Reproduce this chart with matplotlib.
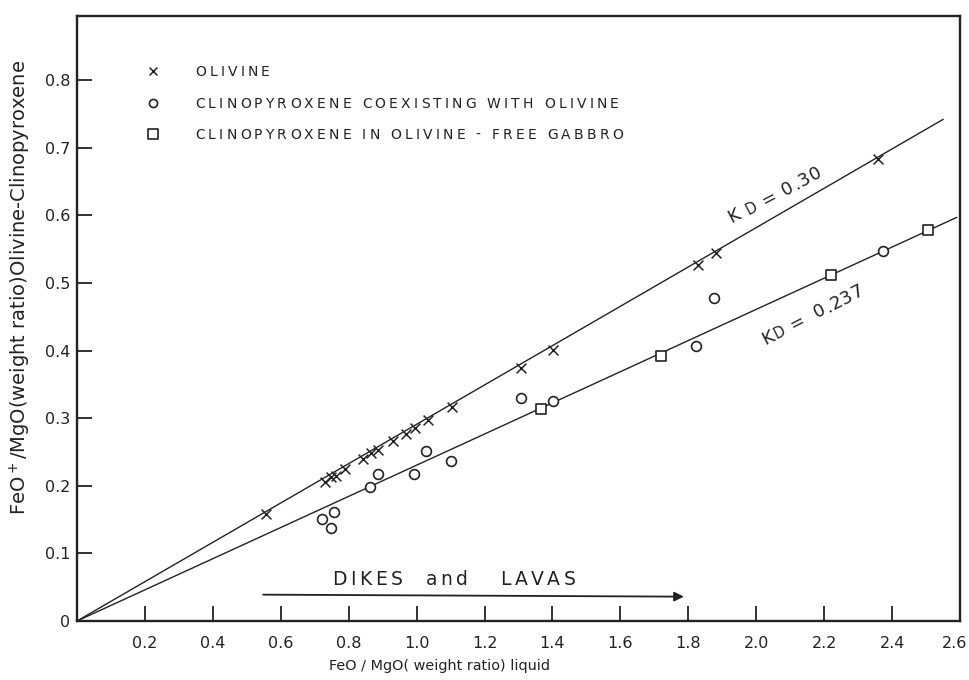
import matplotlib
matplotlib.use("Agg")
import matplotlib.pyplot as plt
from matplotlib.font_manager import FontProperties
from matplotlib.textpath import TextToPath
import matplotlib.transforms as mtransforms
import numpy as np

FONT = 'DejaVu Sans'
plt.rcParams['font.family'] = [FONT]
INK = '#222222'

# Data
olivine_x = [0.557, 0.729, 0.749, 0.764, 0.788, 0.842, 0.867, 0.887, 0.931, 0.970,
             0.995, 1.034, 1.103, 1.306, 1.403, 1.828, 1.883, 2.358]
olivine_y = [0.159, 0.205, 0.213, 0.215, 0.225, 0.240, 0.248, 0.253, 0.267, 0.276,
             0.285, 0.297, 0.316, 0.374, 0.401, 0.527, 0.544, 0.684]

cpx_ol_x = [0.721, 0.757, 0.747, 0.862, 0.887, 0.993, 1.029, 1.100, 1.307, 1.403,
            1.824, 1.877, 2.372]
cpx_ol_y = [0.151, 0.161, 0.138, 0.198, 0.217, 0.218, 0.251, 0.237, 0.330, 0.326,
            0.407, 0.478, 0.548]

cpx_gab_x = [1.366, 1.721, 2.220, 2.507]
cpx_gab_y = [0.314, 0.392, 0.512, 0.579]

line_ol_x = [0.0, 2.55]
line_ol_y = [0.0, 0.742]
line_cpx_x = [0.0, 2.59]
line_cpx_y = [0.0, 0.597]

xticks = [0.2, 0.4, 0.6, 0.8, 1.0, 1.2, 1.4, 1.6, 1.8, 2.0, 2.2, 2.4, 2.6]
xticklabels = ['0.2', '0.4', '0.6', '0.8', '1.0', '1.2', '1.4', '1.6', '1.8', '2.0', '2.2', '2.4', '2.6']
yticks = [0.0, 0.1, 0.2, 0.3, 0.4, 0.5, 0.6, 0.7, 0.8]
yticklabels = ['0', '0.1', '0.2', '0.3', '0.4', '0.5', '0.6', '0.7', '0.8']

legend_labels = ['OLIVINE', 'CLINOPYROXENE COEXISTING WITH OLIVINE',
                 'CLINOPYROXENE IN OLIVINE - FREE GABBRO']

_t2p = TextToPath()


def char_width(ch, size):
    prop = FontProperties(family=FONT, size=size)
    w1 = _t2p.get_text_width_height_descent('n' + ch + 'n', prop, ismath=False)[0]
    w0 = _t2p.get_text_width_height_descent('nn', prop, ismath=False)[0]
    return w1 - w0


def spaced_text(ax, x, y, segments, track=0.0, angle=0.0, ha='left', vcenter=True):
    """segments: list of (string, fontsize). track in points."""
    chars = []
    for s, size in segments:
        for ch in s:
            chars.append((ch, size, char_width(ch, size)))
    total = sum(w for _, _, w in chars) + track * (len(chars) - 1)
    start = -total / 2 if ha == 'center' else 0.0
    maxsize = max(size for _, size in segments)
    perp = -0.729 * maxsize / 2 if vcenter else 0.0
    th = np.deg2rad(angle)
    c, s_ = np.cos(th), np.sin(th)
    pos = start
    for ch, size, w in chars:
        if ch != ' ':
            dx = pos * c - perp * s_
            dy = pos * s_ + perp * c
            ax.annotate(ch, xy=(x, y), xycoords='data', xytext=(dx, dy),
                        textcoords='offset points', ha='left', va='baseline',
                        rotation=angle, rotation_mode='anchor', fontsize=size,
                        color=INK, annotation_clip=False)
        pos += w + track


fig = plt.figure(figsize=(9.69, 6.8), dpi=100)
ax = fig.add_axes([77/969, 1 - 621/680, (960-77)/969, (621-16)/680])

ax.plot(line_ol_x, line_ol_y, color=INK, lw=1.0, zorder=1)
ax.plot(line_cpx_x, line_cpx_y, color=INK, lw=1.0, zorder=1)

ax.scatter(olivine_x, olivine_y, marker='x', s=50, color=INK, linewidths=1.1, zorder=3)
ax.scatter(cpx_ol_x, cpx_ol_y, marker='o', s=50, facecolor='white', edgecolor=INK,
           linewidths=1.2, zorder=3)
ax.scatter(cpx_gab_x, cpx_gab_y, marker='s', s=62, facecolor='white', edgecolor=INK,
           linewidths=1.2, zorder=3)

ax.set_xlim(0, 2.6)
ax.set_ylim(0, 0.895)

ax.set_xticks(xticks)
ax.set_xticklabels(xticklabels)
ax.set_yticks(yticks)
ax.set_yticklabels(yticklabels)
ax.tick_params(axis='both', direction='in', length=11, width=1.3, labelsize=11.5,
               colors=INK)
ax.tick_params(axis='x', pad=11)
ax.tick_params(axis='y', pad=5)
for sp in ax.spines.values():
    sp.set_linewidth(1.7)
    sp.set_color(INK)

# keep the last x tick label inside the picture
last = ax.get_xticklabels()[-1]
last.set_transform(last.get_transform() +
                   mtransforms.ScaledTranslation(-5/100, 0, fig.dpi_scale_trans))

ax.set_xlabel('FeO / MgO( weight ratio) liquid', fontsize=10.4, color=INK)
ax.xaxis.set_label_coords(0.411, -0.063)
ax.set_ylabel('FeO$^+$/MgO(weight ratio)Olivine-Clinopyroxene', fontsize=14, color=INK)
ax.yaxis.set_label_coords(-0.050, 0.552)

# Legend drawn as marker + letter-spaced text
leg_markers = ['x', 'o', 's']
leg_y = [0.813, 0.766, 0.720]
for m, lab, yy in zip(leg_markers, legend_labels, leg_y):
    if m == 'x':
        ax.scatter([0.225], [yy], marker='x', s=32, color=INK, linewidths=1.1, zorder=3)
    else:
        ax.scatter([0.225], [yy], marker=m, s=34 if m == 'o' else 42, facecolor='white',
                   edgecolor=INK, linewidths=1.2, zorder=3)
    spaced_text(ax, 0.348, yy, [(lab, 10)], track=2.3)

spaced_text(ax, 2.052, 0.632, [('K ', 13), ('D', 10.5), (' = 0.30', 13)], track=0.6,
            angle=27.5, ha='center')
spaced_text(ax, 2.165, 0.455, [('K', 13), ('D', 10.5), (' =  0.237', 13)], track=0.3,
            angle=27.0, ha='center')

spaced_text(ax, 1.110, 0.064, [('DIKES  and   LAVAS', 13.5)], track=2.6, ha='center')
ax.annotate('', xy=(1.795, 0.036), xytext=(0.54, 0.039),
            arrowprops=dict(arrowstyle='-|>', color=INK, lw=1.3, mutation_scale=14))

fig.savefig('out.png', dpi=100, facecolor='white')
